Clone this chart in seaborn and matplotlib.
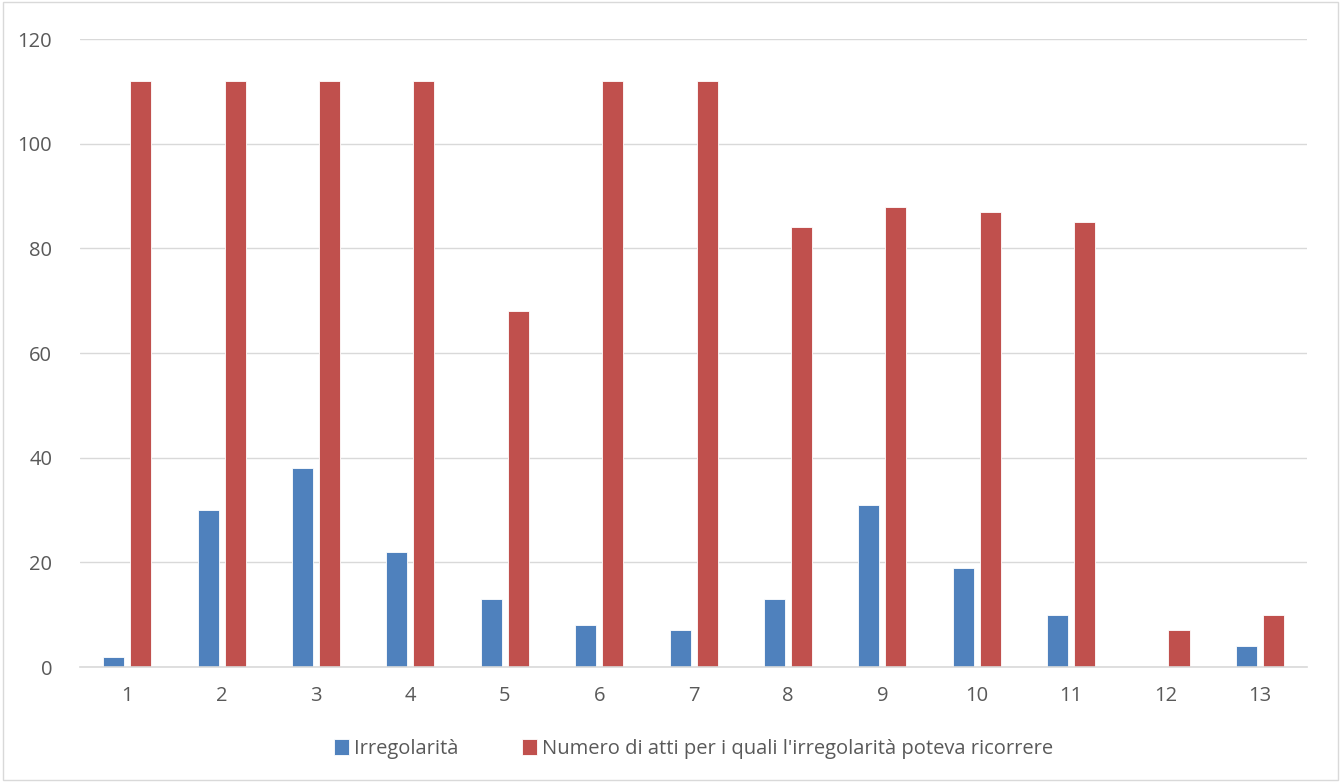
import matplotlib
matplotlib.use("Agg")
import matplotlib.pyplot as plt
import seaborn as sns
import pandas as pd

# dati
categorie = [str(i) for i in range(1, 14)]
irregolarita = [2, 30, 38, 22, 13, 8, 7, 13, 31, 19, 10, 0, 4]
numero_atti = [112, 112, 112, 112, 68, 112, 112, 84, 88, 87, 85, 7, 10]
serie = ["Irregolarità", "Numero di atti per i quali l'irregolarità poteva ricorrere"]
colori = ["#4f81bd", "#c0504d"]
y_ticks = [0, 20, 40, 60, 80, 100, 120]

df = pd.DataFrame({
    "cat": categorie * 2,
    "valore": irregolarita + numero_atti,
    "serie": [serie[0]] * 13 + [serie[1]] * 13,
})

sns.set_style("white")
plt.rcParams["font.family"] = ["Open Sans", "DejaVu Sans"]

fig = plt.figure(figsize=(13.41, 7.82), dpi=100)
ax = fig.add_axes([0.0597, 0.147, 0.915, 0.803])

sns.barplot(data=df, x="cat", y="valore", hue="serie", palette=colori,
            saturation=1, width=0.572, gap=0.22, order=categorie, hue_order=serie,
            edgecolor="white", linewidth=0.6, ax=ax)

ax.set_ylim(0, 120)
ax.set_yticks(y_ticks)
ax.set_xlim(-0.5, 12.5)
ax.yaxis.grid(True, color="#d9d9d9", linewidth=1)
ax.set_axisbelow(True)
for s in ["top", "right", "left"]:
    ax.spines[s].set_visible(False)
ax.spines["bottom"].set_color("#d9d9d9")
ax.spines["bottom"].set_linewidth(1.2)
ax.set_xlabel("")
ax.set_ylabel("")
ax.tick_params(axis="both", length=0, labelsize=14.5, colors="#595959")
ax.tick_params(axis="x", pad=14)
ax.tick_params(axis="y", pad=20)

ax.legend(loc="center", bbox_to_anchor=(0.5, -0.13), ncol=2, frameon=False,
          fontsize=14.5, labelcolor="#595959", handlelength=0.7, handleheight=0.9,
          handletextpad=0.25, columnspacing=3.2)

# bordo della figura
fig.patches.append(plt.Rectangle((0.002, 0.002), 0.996, 0.996, transform=fig.transFigure,
                                 fill=False, edgecolor="#d9d9d9", linewidth=1))

fig.savefig("out.png", dpi=100)
